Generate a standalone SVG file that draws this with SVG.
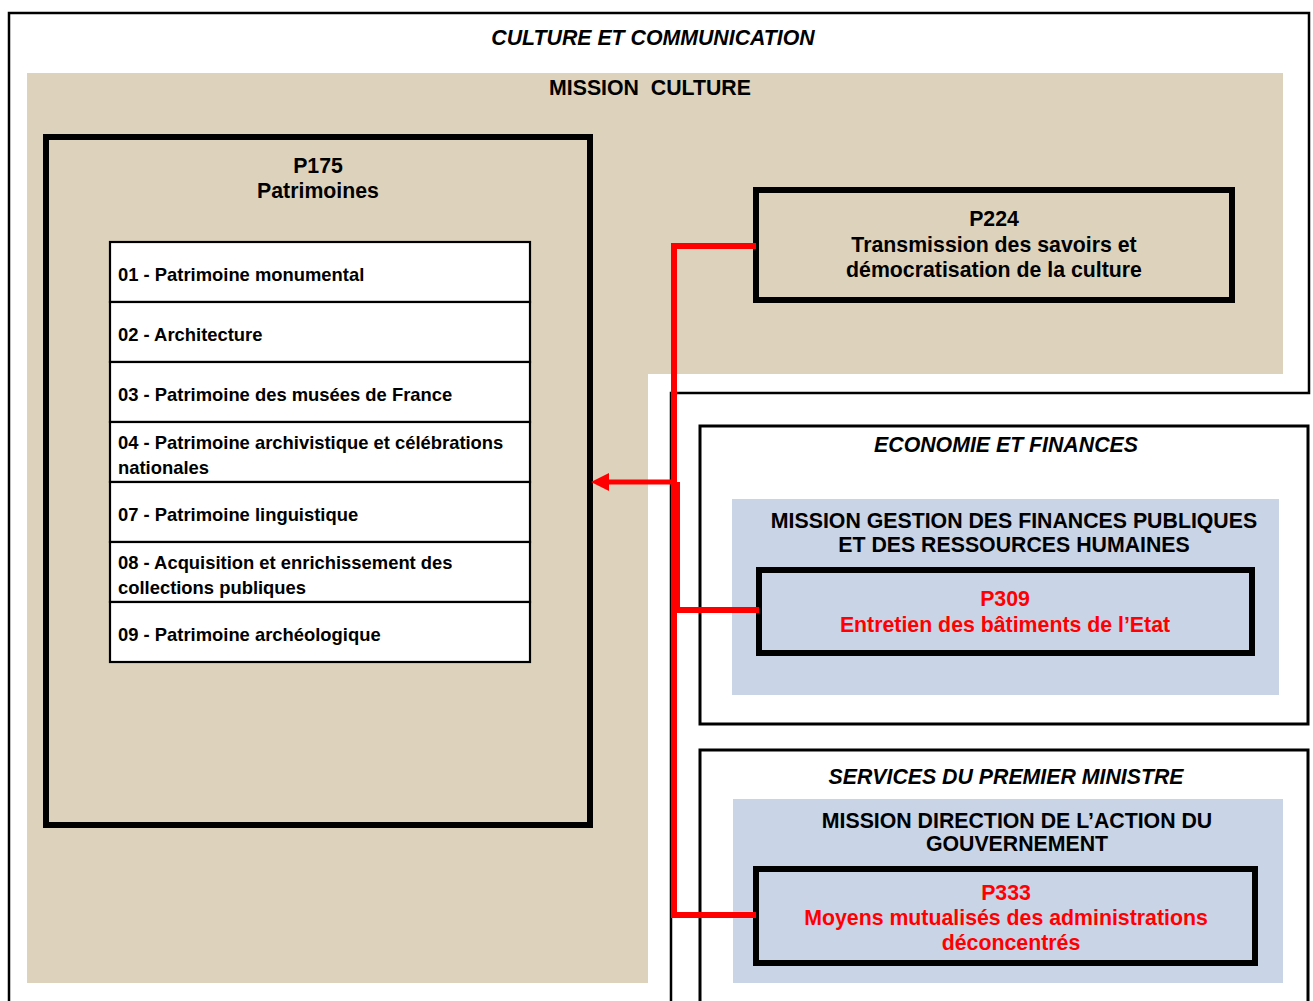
<svg xmlns="http://www.w3.org/2000/svg" width="1313" height="1001" viewBox="0 0 1313 1001">
  <style>
    text { font-family: "Liberation Sans", Arial, sans-serif; font-weight: bold; fill: #000; }
    .h { font-size: 21.3px; text-anchor: middle; }
    .hi { font-size: 21.3px; text-anchor: middle; font-style: italic; }
    .li { font-size: 18.4px; }
    .red { fill: #FF0000; }
    .frame { fill: none; stroke: #000; stroke-width: 2.5; }
    .box { fill: #fff; stroke: #000; stroke-width: 3; }
    .prog { fill: none; stroke: #000; stroke-width: 6; }
    .tan { fill: #DDD3BD; }
    .blue { fill: #C9D4E7; }
    .row { fill: #fff; stroke: #000; stroke-width: 2.2; }
    .conn { fill: none; stroke: #FF0000; stroke-linejoin: miter; }
  </style>
  <defs>
    <marker id="arrow" viewBox="0 0 18 18" markerWidth="18" markerHeight="18" markerUnits="userSpaceOnUse" refX="9" refY="9" orient="auto">
      <path d="M0,0 L18,9 L0,18 Z" fill="#FF0000"/>
    </marker>
  </defs>

  <rect x="0" y="0" width="1313" height="1001" fill="#fff"/>

  <g id="culture-communication">
    <path class="frame" d="M9,1005 V13 H1309 V393 H671 V1005"/>
    <text class="hi" x="653" y="45">CULTURE ET COMMUNICATION</text>
  </g>

  <g id="mission-culture">
    <path class="tan" d="M27,73 H1283 V374 H648 V983 H27 Z"/>
    <text class="h" x="650" y="95" xml:space="preserve">MISSION  CULTURE</text>
  </g>

  <g id="p175">
    <rect class="prog" x="46" y="137" width="544" height="688"/>
    <text class="h" x="318" y="173">P175</text>
    <text class="h" x="318" y="198">Patrimoines</text>
  </g>

  <g id="p175-actions">
    <rect class="row" x="110" y="242" width="420" height="60"/>
    <rect class="row" x="110" y="302" width="420" height="60"/>
    <rect class="row" x="110" y="362" width="420" height="60"/>
    <rect class="row" x="110" y="422" width="420" height="60"/>
    <rect class="row" x="110" y="482" width="420" height="60"/>
    <rect class="row" x="110" y="542" width="420" height="60"/>
    <rect class="row" x="110" y="602" width="420" height="60"/>
    <text class="li" x="118" y="281">01 - Patrimoine monumental</text>
    <text class="li" x="118" y="341">02 - Architecture</text>
    <text class="li" x="118" y="401">03 - Patrimoine des musées de France</text>
    <text class="li" x="118" y="449">04 - Patrimoine archivistique et célébrations</text>
    <text class="li" x="118" y="474">nationales</text>
    <text class="li" x="118" y="521">07 - Patrimoine linguistique</text>
    <text class="li" x="118" y="569">08 - Acquisition et enrichissement des</text>
    <text class="li" x="118" y="594">collections publiques</text>
    <text class="li" x="118" y="641">09 - Patrimoine archéologique</text>
  </g>

  <g id="p224">
    <rect class="prog" x="756" y="190" width="476" height="110"/>
    <text class="h" x="994" y="226">P224</text>
    <text class="h" x="994" y="252">Transmission des savoirs et</text>
    <text class="h" x="994" y="277">démocratisation de la culture</text>
  </g>

  <g id="economie-finances">
    <rect class="box" x="700" y="426" width="608" height="298"/>
    <text class="hi" x="1006" y="452">ECONOMIE ET FINANCES</text>
  </g>

  <g id="mission-gestion">
    <rect class="blue" x="732" y="499" width="547" height="196"/>
    <text class="h" x="1014" y="528">MISSION GESTION DES FINANCES PUBLIQUES</text>
    <text class="h" x="1014" y="552">ET DES RESSOURCES HUMAINES</text>
  </g>

  <g id="p309">
    <rect class="prog" x="759" y="570" width="493" height="83"/>
    <text class="h red" x="1005" y="606">P309</text>
    <text class="h red" x="1005" y="632">Entretien des bâtiments de l’Etat</text>
  </g>

  <g id="services-premier-ministre">
    <rect class="box" x="700" y="750" width="608" height="300"/>
    <text class="hi" x="1006" y="784">SERVICES DU PREMIER MINISTRE</text>
  </g>

  <g id="mission-direction">
    <rect class="blue" x="733" y="799" width="550" height="184"/>
    <text class="h" x="1017" y="828">MISSION DIRECTION DE L’ACTION DU</text>
    <text class="h" x="1017" y="851">GOUVERNEMENT</text>
  </g>

  <g id="p333">
    <rect class="prog" x="756" y="869" width="499" height="94"/>
    <text class="h red" x="1006" y="900">P333</text>
    <text class="h red" x="1006" y="925">Moyens mutualisés des administrations</text>
    <text class="h red" x="1011" y="950">déconcentrés</text>
  </g>

  <g id="connectors">
    <path class="conn" stroke-width="6" d="M756,246 H674 V915 H756"/>
    <path class="conn" stroke-width="6" d="M759,610 H677 V482"/>
    <path class="conn" stroke-width="5" d="M677,482 H600" marker-end="url(#arrow)"/>
  </g>
</svg>
